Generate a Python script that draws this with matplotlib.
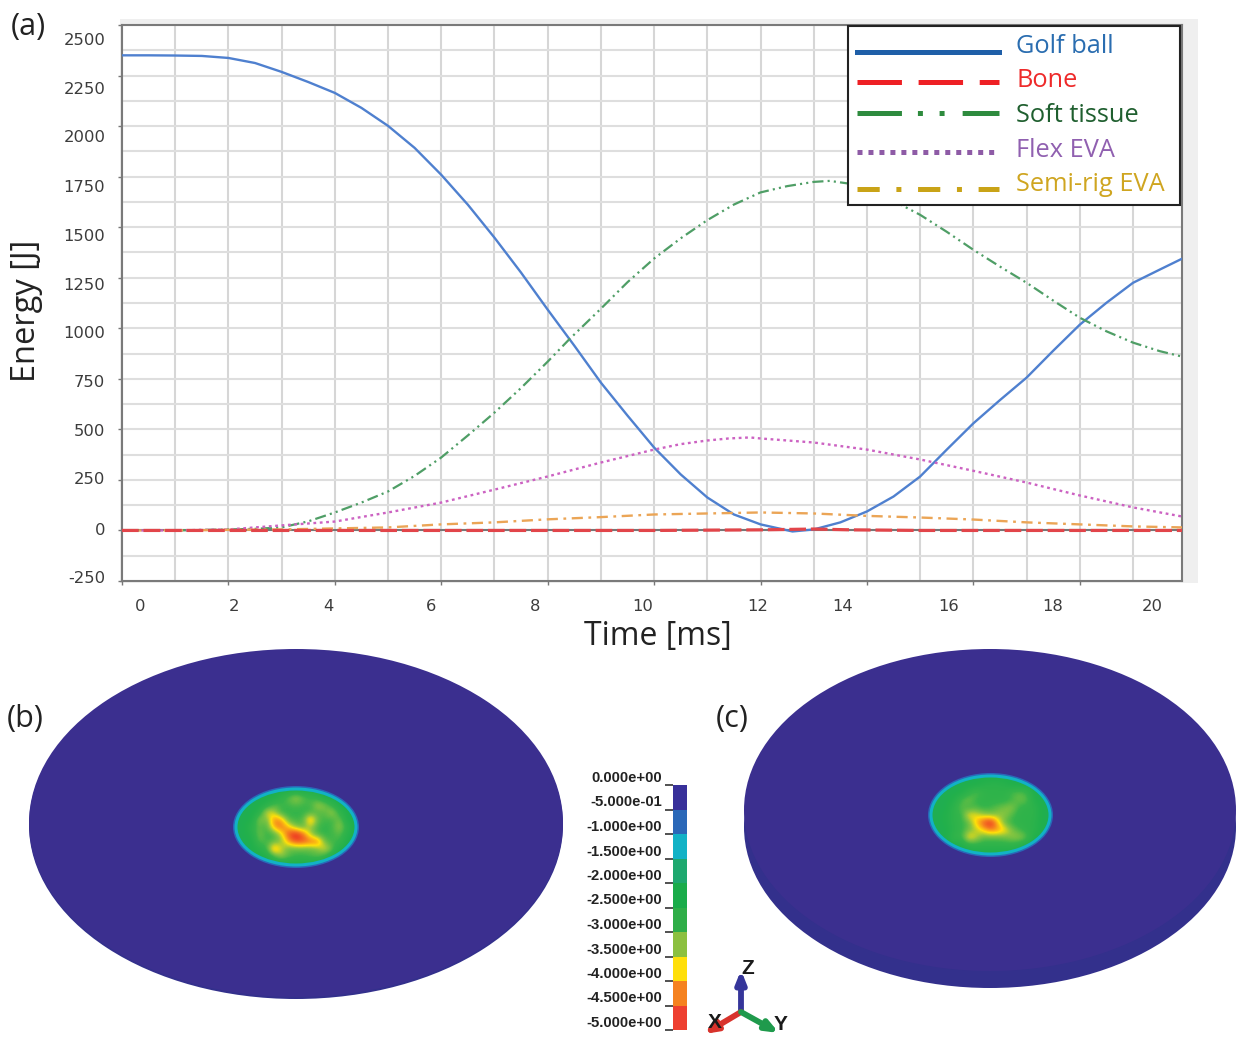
import numpy as np
import matplotlib
matplotlib.use("Agg")
import matplotlib.pyplot as plt
from matplotlib.colors import LinearSegmentedColormap
from matplotlib.lines import Line2D
from matplotlib.patches import Ellipse, Rectangle

plt.rcParams['lines.scale_dashes'] = False
plt.rcParams['font.family'] = ['DejaVu Sans']
LABEL_FONT = 'Open Sans'

# ---------- data, panel (a) ----------
t_golf = [0, 0.5, 1, 1.5, 2, 2.5, 3, 3.5, 4, 4.5, 5, 5.5, 6, 6.5, 7, 7.5, 8, 8.5, 9, 9.5, 10, 10.5, 11, 11.5, 12, 12.6,
          13, 13.5, 14, 14.5, 15, 15.5, 16, 16.5, 17, 17.5, 18, 18.5, 19, 19.5, 19.92]
golf = [2350, 2350, 2349, 2347, 2337, 2312, 2268, 2218, 2164, 2090, 2001, 1892, 1759, 1611, 1448, 1275, 1092, 914, 731,
        568, 410, 277, 163, 79, 30, -5, 5, 40, 94, 168, 267, 400, 530, 645, 756, 889, 1018, 1126, 1225, 1290, 1344]
t_soft = [0, 1, 2, 2.5, 3, 3.5, 4, 4.5, 5, 5.5, 6, 6.5, 7, 7.5, 8, 8.4, 9, 9.5, 10, 10.5, 11, 11.5, 12, 12.5, 13, 13.3,
          13.7, 14, 14.5, 15, 15.5, 16, 16.5, 17, 17.5, 18, 18.5, 19, 19.5, 19.92]
soft = [0, 0, 5, 8, 15, 45, 89, 138, 193, 270, 361, 470, 583, 705, 835, 944, 1097, 1228, 1345, 1445, 1535, 1612, 1672,
        1703, 1724, 1729, 1714, 1690, 1630, 1561, 1477, 1388, 1305, 1225, 1137, 1052, 985, 929, 887, 860]
t_flex = [0, 1, 2, 3, 4, 5, 6, 7, 8, 9, 10, 10.5, 11, 11.4, 11.8, 12, 13, 14, 15, 16, 17, 18, 19, 19.92]
flex = [0, 0, 5, 25, 44, 89, 138, 202, 267, 336, 400, 427, 445, 455, 460, 455, 435, 400, 351, 295, 237, 173, 114, 69]
t_semi = [0, 1, 2, 3, 4, 5, 6, 7, 8, 9, 10, 11, 12, 13, 14, 15, 16, 17, 18, 19, 19.92]
semi = [0, 0, 3, 5, 10, 15, 30, 40, 55, 66, 79, 84, 89, 84, 72, 64, 54, 40, 30, 20, 15]
t_bone = [0, 5, 10, 12, 13, 13.7, 15, 19.92]
bone = [0, 0, 0, 3, 7, 3, 0, 0]

xtick_labels = ['0', '2', '4', '6', '8', '10', '12', '14', '16', '18', '20']
xtick_label_pos = [0.34, 2.11, 3.87, 5.81, 7.76, 9.79, 11.94, 13.55, 15.53, 17.48, 19.36]
ytick_labels = ['2500', '2250', '2000', '1750', '1500', '1250', '1000', '750', '500', '250', '0', '-250']
ytick_label_pos = [2431, 2188, 1951, 1705, 1463, 1220, 983, 741, 499, 257, 5, -232]
legend_names = ['Golf ball', 'Bone', 'Soft tissue', 'Flex EVA', 'Semi-rig EVA']

# ---------- data, panels (b), (c) ----------
scale_values = [0, -0.5, -1, -1.5, -2, -2.5, -3, -3.5, -4, -4.5, -5]
scale_labels = ['0.000e+00', '-5.000e-01', '-1.000e+00', '-1.500e+00', '-2.000e+00', '-2.500e+00',
                '-3.000e+00', '-3.500e+00', '-4.000e+00', '-4.500e+00', '-5.000e+00']
scale_colors = ['#38309a', '#2a68b8', '#12b2c6', '#1ea86f', '#1aac4a', '#2fae48',
                '#8cc040', '#ffdf0a', '#f58220', '#ee4030']
field_b = np.array([
 [0,0,0,0,0,.5,1.4,1.5,1.5,1.5,1.5,1.0,.4,0,0,0,0],
 [0,0,0,.5,1.4,1.8,2.6,3.0,3.5,3.0,2.8,2.6,2.0,1.4,.5,0,0],
 [0,0,.6,1.5,2.4,3.0,2.8,2.8,2.9,2.8,2.8,3.5,3.2,2.6,1.5,.6,0],
 [0,.5,1.4,2.4,3.8,3.5,2.7,2.7,2.7,2.7,2.8,2.9,3.0,3.5,2.6,1.5,.2],
 [0,1.2,2.2,3.4,3.0,4.5,4.2,2.9,2.8,2.9,4.5,3.0,2.8,2.8,3.2,2.2,1.0],
 [.3,1.5,2.6,3.0,2.8,4.2,4.6,4.0,3.2,3.0,3.4,2.8,2.7,2.8,3.4,2.6,1.2],
 [.3,1.4,2.4,3.2,2.7,2.8,3.6,4.8,5.4,4.6,3.4,2.8,2.7,2.8,3.0,2.4,1.0],
 [0,1.2,2.2,3.0,2.8,3.0,3.2,4.2,4.8,4.8,4.6,4.6,3.0,2.8,2.8,1.8,.4],
 [0,.5,1.5,2.4,2.8,4.5,3.6,3.0,3.0,3.0,3.0,3.2,3.8,3.0,2.0,1.0,0],
 [0,0,.4,1.4,2.2,2.8,3.4,3.0,2.8,2.8,2.9,3.0,2.6,1.6,.8,0,0],
 [0,0,0,0,.5,1.3,1.6,1.8,1.9,1.9,1.7,1.2,.5,0,0,0,0]])
field_c = np.array([
 [0,0,0,0,0,.5,1.3,1.5,1.5,1.5,1.5,1.2,.4,0,0,0,0],
 [0,0,0,.4,1.4,1.7,2.2,2.4,2.5,2.5,2.4,2.2,1.8,1.3,.4,0,0],
 [0,0,.5,1.5,2.2,2.6,3.0,2.7,2.6,2.6,2.6,2.9,3.0,2.8,1.6,.5,0],
 [0,.4,1.4,2.3,2.9,3.2,2.7,2.6,2.6,2.6,2.6,2.8,3.1,3.0,2.3,1.5,.2],
 [0,1.2,2.1,2.6,3.0,2.7,2.9,2.7,2.8,3.0,3.2,3.3,2.7,2.6,2.6,2.0,.8],
 [.3,1.4,2.3,2.6,2.7,3.9,3.7,3.4,3.2,3.3,3.3,2.9,2.6,2.6,2.6,2.2,1.0],
 [.3,1.4,2.3,2.6,2.7,3.0,4.0,4.8,5.4,4.0,3.0,2.7,2.6,2.6,2.5,2.2,1.0],
 [0,1.2,2.2,2.5,2.7,3.1,3.4,3.9,4.4,4.3,3.9,3.2,2.8,2.6,2.5,1.8,.4],
 [0,.4,1.5,2.8,2.7,4.0,3.6,3.0,3.0,3.0,3.1,3.3,3.4,3.0,2.0,1.0,0],
 [0,0,.4,1.4,2.2,2.5,2.6,2.6,2.6,2.6,2.6,2.6,2.4,1.6,.8,0,0],
 [0,0,0,0,.5,1.3,1.6,1.8,1.9,1.9,1.7,1.2,.5,0,0,0,0]])

W, H = 1239, 1037
fig = plt.figure(figsize=(W / 100, H / 100), dpi=100, facecolor='white')


def px_axes(x0, y0, x1, y1, **kw):
    return fig.add_axes([x0 / W, 1 - y1 / H, (x1 - x0) / W, (y1 - y0) / H], **kw)


back = px_axes(0, 0, W, H, zorder=0)
back.set_xlim(0, W)
back.set_ylim(H, 0)
back.axis('off')
back.add_patch(Rectangle((120, 19), 1078, 564, color='#efefef', lw=0))

# ---------- panel (a) ----------
ax = px_axes(122, 25, 1182, 581, zorder=2)
ax.set_xlim(0, 19.92)
ax.set_ylim(-250, 2500)
ax.set_xticks(np.arange(0, 20, 2))
ax.set_xticks(np.arange(0, 20, 1), minor=True)
ax.set_yticks(np.arange(-250, 2501, 250))
ax.set_yticks(np.arange(-250, 2501, 125), minor=True)
ax.xaxis.remove_overlapping_locs = False
ax.yaxis.remove_overlapping_locs = False
ax.tick_params(which='major', length=3, width=1, color='#777777', labelbottom=False, labelleft=False)
ax.tick_params(which='minor', length=0)
ax.grid(True, which='minor', axis='x', color='#d6d6d6', lw=1.5, zorder=0)
ax.grid(True, which='minor', axis='y', color='#dedede', lw=1.5, zorder=0)
ax.set_axisbelow(True)
for s in ax.spines.values():
    s.set_color('#7a7a7a')
    s.set_linewidth(1.5)
ax.axhline(0, color='#777777', lw=1.5, zorder=1)

ax.plot(t_golf, golf, color='#4f80cf', lw=1.7, zorder=3)
ax.plot(t_soft, soft, color='#4f9e66', lw=1.6, dashes=(8, 3, 1.5, 3, 1.5, 3), zorder=3)
ax.plot(t_flex, flex, color='#cc62c2', lw=1.7, dashes=(2, 2.6), zorder=3)
ax.plot(t_semi, semi, color='#eba556', lw=1.7, dashes=(8, 4, 2, 4), zorder=3)
ax.plot(t_bone, bone, color='#e2454a', lw=2.3, dashes=(12, 3.5), zorder=4)

xt = ax.twiny()
xt.set_xlim(ax.get_xlim())
xt.xaxis.tick_bottom()
xt.set_xticks(xtick_label_pos, xtick_labels)
xt.tick_params(length=0, pad=13, labelsize=11.8, labelcolor='#3c3c3c')
yt = ax.twinx()
yt.set_ylim(ax.get_ylim())
yt.yaxis.tick_left()
yt.set_yticks(ytick_label_pos, ytick_labels)
yt.tick_params(length=0, pad=12, labelsize=11.8, labelcolor='#3c3c3c')
for a in (xt, yt):
    a.patch.set_visible(False)
    for s in a.spines.values():
        s.set_visible(False)

fig.text(658 / W, 1 - 636 / H, 'Time [ms]', family=LABEL_FONT, fontsize=23,
         ha='center', va='center', color='#222222')
fig.text(27 / W, 1 - 311 / H, 'Energy [J]', family=LABEL_FONT, fontsize=23.5, rotation=90,
         ha='center', va='center', color='#222222')
fig.text(28 / W, 1 - 27 / H, '(a)', family=LABEL_FONT, fontsize=22, ha='center', va='center', color='#222222')
fig.text(25 / W, 1 - 719 / H, '(b)', family=LABEL_FONT, fontsize=22, ha='center', va='center', color='#222222')
fig.text(732 / W, 1 - 719 / H, '(c)', family=LABEL_FONT, fontsize=22, ha='center', va='center', color='#222222')

# legend
handles = [
    Line2D([], [], color='#1f5fa8', lw=3.6),
    Line2D([], [], color='#ee2024', lw=3.6, dashes=(32, 12)),
    Line2D([], [], color='#2e8b3e', lw=3.6, dashes=(32, 11.5, 3.6, 12, 3.6, 13)),
    Line2D([], [], color='#8e5ba6', lw=3.6, dashes=(3.6, 4.3)),
    Line2D([], [], color='#c9a317', lw=3.6, dashes=(16, 12, 3.6, 12)),
]
frame = Rectangle((848 / W, 1 - 205 / H), 332 / W, 179 / H, transform=fig.transFigure, facecolor='white',
                  edgecolor='#222222', lw=1.5, clip_on=False, zorder=9)
ax.add_patch(frame)
leg = ax.legend(handles, legend_names, loc='upper left', bbox_to_anchor=(849 / W, 1 - 26 / H),
                bbox_transform=fig.transFigure, borderaxespad=0, frameon=False,
                handlelength=5.6, handletextpad=0.68, labelspacing=0.38, borderpad=0.3,
                prop={'family': LABEL_FONT, 'size': 18.3})
leg.set_zorder(10)
for txt, c in zip(leg.get_texts(), ['#2a6db0', '#ee2a2a', '#1f5f2f', '#9060b0', '#cfa520']):
    txt.set_color(c)
handle_drop = [8, 4, 0, 4, 6.5]
for ln, d in zip(leg.get_lines(), handle_drop):
    ln.set_ydata(np.asarray(ln.get_ydata(), float) - d * 0.72)

# ---------- panels (b), (c) ----------
cmap = LinearSegmentedColormap.from_list('fringe', [
    (0.00, '#3b2f8f'), (0.10, '#3b2f8f'), (0.20, '#2a68b8'), (0.30, '#12b2c6'), (0.40, '#1aaa60'),
    (0.45, '#22b04c'), (0.55, '#35b54a'), (0.66, '#8cc63f'), (0.76, '#ffdf0a'), (0.88, '#f58220'), (1.00, '#ee3a24')])


def disc(cx, cy, a, b, side, field, fx0, fy0, fx1, fy1):
    if side:
        back.add_patch(Ellipse((cx, cy + side), 2 * a, 2 * b, color='#33308c', lw=0))
    back.add_patch(Ellipse((cx, cy), 2 * a, 2 * b, color='#3b2f8f', lw=0))
    mx, my = (fx0 + fx1) / 2, (fy0 + fy1) / 2
    rx, ry = (fx1 - fx0) / 2, (fy1 - fy0) / 2
    back.add_patch(Ellipse((mx, my), 2 * rx + 2, 2 * ry + 2, color='#2a68b8', lw=0, zorder=2))
    back.add_patch(Ellipse((mx, my), 2 * rx - 1, 2 * ry - 1, color='#12b2c6', lw=0, zorder=2.1))
    im = back.imshow(np.maximum(field, 2.2), cmap=cmap, vmin=0, vmax=5, interpolation='bicubic', aspect='auto',
                     extent=(fx0, fx1, fy1, fy0), zorder=3)
    clip = Ellipse((mx, my), 2 * rx - 7, 2 * ry - 7, transform=back.transData)
    im.set_clip_path(clip)


disc(296, 823, 267, 174, 2, field_b, 234, 787, 358, 867)
disc(990, 810, 246, 161, 17, field_c, 929, 774, 1052, 856)
back.set_xlim(0, W)
back.set_ylim(H, 0)

# colour scale
cb = px_axes(673, 785, 687, 1030, zorder=2)
cb.set_xlim(0, 1)
cb.set_ylim(-5, 0)
for i, c in enumerate(scale_colors):
    cb.barh((scale_values[i] + scale_values[i + 1]) / 2, 1, height=0.5, color=c, lw=0)
cb.set_xticks([])
cb.set_yticks(scale_values, scale_labels)
cb.tick_params(axis='y', length=6, width=1.2, color='#333333', pad=2, labelsize=10.7, labelcolor='#222222')
for lab in cb.get_yticklabels():
    lab.set_family('Liberation Sans')
    lab.set_fontweight('bold')
    lab.set_verticalalignment('bottom')
for s in cb.spines.values():
    s.set_visible(False)

# coordinate triad
front = px_axes(0, 0, W, H, zorder=3)
front.set_xlim(0, W)
front.set_ylim(H, 0)
front.axis('off')
front.patch.set_visible(False)
origin = (741, 1012)
for tip, col in [((741, 970), '#35359a'), ((704, 1034), '#d8332c'), ((779, 1033), '#1f9a4c')]:
    front.annotate('', xy=tip, xytext=origin,
                   arrowprops=dict(arrowstyle='-|>,head_length=0.7,head_width=0.28', color=col, lw=4.2,
                                   shrinkA=0, shrinkB=0))
for s, x, y in [('Z', 748, 969), ('X', 715, 1023), ('Y', 781, 1024)]:
    front.text(x, y, s, family='Liberation Sans', fontweight='bold', fontsize=15, ha='center', va='center', color='#1a1a1a')

fig.savefig('out.png', dpi=100)
